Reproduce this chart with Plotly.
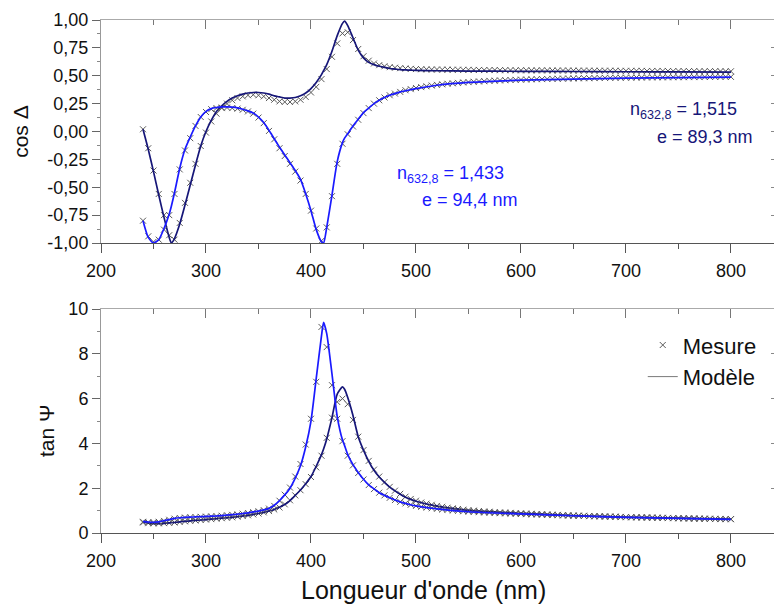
import plotly.graph_objects as go

# ---------------- data ----------------
wl_meas = [240, 245, 250, 255, 260, 265, 270, 275, 280, 285,
           290, 295, 300, 305, 310, 315, 320, 325, 330, 335,
           340, 345, 350, 355, 360, 365, 370, 375, 380, 385,
           390, 395, 400, 405, 410, 415, 420, 425, 430, 435,
           440, 445, 450, 455, 460, 465, 470, 475, 480, 485,
           490, 495, 500, 505, 510, 515, 520, 525, 530, 535,
           540, 545, 550, 555, 560, 565, 570, 575, 580, 585,
           590, 595, 600, 605, 610, 615, 620, 625, 630, 635,
           640, 645, 650, 655, 660, 665, 670, 675, 680, 685,
           690, 695, 700, 705, 710, 715, 720, 725, 730, 735,
           740, 745, 750, 755, 760, 765, 770, 775, 780, 785,
           790, 795, 800]

cos_meas_dark = [0.02, -0.15, -0.35, -0.56, -0.75, -0.93, -0.97, -0.82, -0.64, -0.46,
                 -0.29, -0.13, -0.01, 0.09, 0.16, 0.21, 0.25, 0.28, 0.30, 0.315,
                 0.325, 0.33, 0.325, 0.315, 0.30, 0.285, 0.27, 0.265, 0.265, 0.27,
                 0.285, 0.31, 0.35, 0.40, 0.47, 0.56, 0.67, 0.79, 0.88, 0.89,
                 0.82, 0.74, 0.675, 0.635, 0.61, 0.595, 0.585, 0.577, 0.572, 0.568,
                 0.565, 0.562, 0.56, 0.558, 0.557, 0.556, 0.556, 0.555, 0.555, 0.554,
                 0.554, 0.553, 0.553, 0.552, 0.552, 0.551, 0.551, 0.551, 0.550, 0.550,
                 0.550, 0.549, 0.549, 0.549, 0.548, 0.548, 0.548, 0.548, 0.547, 0.547,
                 0.547, 0.547, 0.546, 0.546, 0.546, 0.546, 0.545, 0.545, 0.545, 0.545,
                 0.545, 0.544, 0.544, 0.544, 0.544, 0.544, 0.543, 0.543, 0.543, 0.543,
                 0.543, 0.542, 0.542, 0.542, 0.542, 0.542, 0.541, 0.541, 0.541, 0.541,
                 0.541, 0.540, 0.540]

cos_meas_blue = [-0.80, -0.94, -0.99, -0.97, -0.88, -0.75, -0.56, -0.34, -0.17, -0.06,
                 0.05, 0.13, 0.175, 0.20, 0.21, 0.215, 0.215, 0.21, 0.205, 0.195,
                 0.18, 0.16, 0.125, 0.075, 0.005, -0.07, -0.15, -0.22, -0.29, -0.36,
                 -0.44, -0.56, -0.71, -0.87, -0.98, -0.86, -0.58, -0.29, -0.11, -0.025,
                 0.045, 0.105, 0.165, 0.21, 0.25, 0.28, 0.305, 0.325, 0.34, 0.355,
                 0.37, 0.38, 0.39, 0.398, 0.405, 0.412, 0.418, 0.423, 0.428, 0.432,
                 0.436, 0.44, 0.443, 0.446, 0.449, 0.451, 0.454, 0.456, 0.458, 0.46,
                 0.462, 0.463, 0.465, 0.466, 0.468, 0.469, 0.47, 0.471, 0.472, 0.473,
                 0.474, 0.475, 0.476, 0.477, 0.478, 0.478, 0.479, 0.48, 0.481, 0.481,
                 0.482, 0.482, 0.483, 0.483, 0.484, 0.484, 0.485, 0.485, 0.486, 0.486,
                 0.486, 0.487, 0.487, 0.487, 0.488, 0.488, 0.488, 0.489, 0.489, 0.489,
                 0.49, 0.49, 0.49]

tan_meas_dark = [0.47, 0.44, 0.43, 0.43, 0.44, 0.45, 0.47, 0.49, 0.52, 0.54,
                 0.56, 0.58, 0.60, 0.62, 0.64, 0.66, 0.68, 0.70, 0.73, 0.76,
                 0.79, 0.83, 0.87, 0.92, 0.98, 1.05, 1.14, 1.28, 1.46, 1.68,
                 1.91, 2.18, 2.50, 2.93, 3.45, 4.25, 5.15, 5.85, 6.00, 5.75,
                 5.05, 4.30, 3.70, 3.22, 2.83, 2.52, 2.27, 2.06, 1.89, 1.75,
                 1.62, 1.52, 1.44, 1.36, 1.31, 1.26, 1.21, 1.17, 1.13, 1.10,
                 1.07, 1.04, 1.02, 1.00, 0.98, 0.96, 0.95, 0.93, 0.92, 0.91,
                 0.90, 0.89, 0.88, 0.87, 0.86, 0.85, 0.84, 0.83, 0.82, 0.81,
                 0.80, 0.79, 0.78, 0.775, 0.77, 0.76, 0.755, 0.75, 0.74, 0.735,
                 0.73, 0.72, 0.715, 0.71, 0.705, 0.70, 0.695, 0.69, 0.685, 0.68,
                 0.675, 0.67, 0.665, 0.66, 0.655, 0.65, 0.645, 0.64, 0.637, 0.633,
                 0.63, 0.627, 0.624]

tan_meas_blue = [0.50, 0.48, 0.48, 0.50, 0.54, 0.59, 0.64, 0.67, 0.69, 0.70,
                 0.71, 0.72, 0.73, 0.74, 0.75, 0.77, 0.79, 0.81, 0.83, 0.86,
                 0.89, 0.93, 0.97, 1.02, 1.09, 1.21, 1.44, 1.71, 2.03, 2.52,
                 3.08, 3.95, 5.10, 6.75, 9.20, 8.30, 6.60, 5.10, 4.10, 3.45,
                 3.02, 2.68, 2.39, 2.14, 1.96, 1.80, 1.68, 1.57, 1.47, 1.39,
                 1.32, 1.26, 1.21, 1.17, 1.14, 1.11, 1.08, 1.05, 1.03, 1.01,
                 0.99, 0.97, 0.955, 0.94, 0.93, 0.915, 0.905, 0.895, 0.885, 0.875,
                 0.865, 0.855, 0.85, 0.84, 0.83, 0.825, 0.815, 0.81, 0.80, 0.795,
                 0.785, 0.78, 0.77, 0.765, 0.76, 0.75, 0.745, 0.74, 0.73, 0.725,
                 0.72, 0.71, 0.705, 0.70, 0.695, 0.69, 0.685, 0.68, 0.675, 0.67,
                 0.665, 0.66, 0.655, 0.65, 0.645, 0.64, 0.635, 0.63, 0.627, 0.623,
                 0.62, 0.617, 0.614]

wl_model = [240, 245, 250, 255, 260, 265, 267, 270, 275, 280,
            285, 290, 295, 300, 305, 310, 315, 320, 325, 330,
            335, 340, 345, 350, 355, 360, 365, 370, 375, 380,
            385, 390, 395, 400, 405, 410, 412, 415, 420, 425,
            430, 432, 435, 440, 445, 450, 455, 460, 465, 470,
            475, 480, 485, 490, 495, 500, 520, 550, 600, 650,
            700, 750, 800]

cos_model_dark = [0.02, -0.16, -0.36, -0.57, -0.77, -0.95, -1.00, -0.96, -0.83, -0.66,
                  -0.48, -0.30, -0.13, 0.00, 0.10, 0.18, 0.23, 0.27, 0.30, 0.32,
                  0.335, 0.345, 0.35, 0.35, 0.345, 0.335, 0.32, 0.31, 0.30, 0.30,
                  0.305, 0.32, 0.345, 0.385, 0.44, 0.51, 0.545, 0.60, 0.72, 0.86,
                  0.97, 0.99, 0.95, 0.84, 0.73, 0.66, 0.62, 0.60, 0.585, 0.575,
                  0.565, 0.56, 0.555, 0.552, 0.55, 0.548, 0.545, 0.542, 0.54, 0.538,
                  0.536, 0.534, 0.532]

cos_model_blue = [-0.80, -0.95, -1.00, -0.97, -0.87, -0.74, -0.67, -0.55, -0.33, -0.16,
                  -0.05, 0.05, 0.13, 0.18, 0.205, 0.215, 0.22, 0.22, 0.218, 0.212,
                  0.20, 0.185, 0.165, 0.13, 0.08, 0.01, -0.065, -0.14, -0.21, -0.28,
                  -0.35, -0.43, -0.56, -0.71, -0.88, -0.99, -1.00, -0.86, -0.57, -0.27,
                  -0.10, -0.06, -0.02, 0.05, 0.11, 0.17, 0.21, 0.25, 0.28, 0.305,
                  0.325, 0.34, 0.355, 0.365, 0.375, 0.385, 0.415, 0.44, 0.46, 0.47,
                  0.478, 0.484, 0.488]

tan_model_dark = [0.48, 0.44, 0.42, 0.42, 0.43, 0.45, 0.46, 0.47, 0.50, 0.52,
                  0.54, 0.56, 0.58, 0.60, 0.62, 0.64, 0.66, 0.68, 0.70, 0.73,
                  0.76, 0.79, 0.83, 0.87, 0.92, 0.98, 1.05, 1.15, 1.27, 1.45,
                  1.68, 1.92, 2.20, 2.52, 2.98, 3.50, 3.75, 4.20, 5.15, 6.20,
                  6.52, 6.42, 6.05, 5.25, 4.30, 3.70, 3.20, 2.80, 2.50, 2.26,
                  2.05, 1.88, 1.73, 1.60, 1.50, 1.42, 1.20, 1.01, 0.88, 0.78,
                  0.71, 0.66, 0.62]

tan_model_blue = [0.52, 0.49, 0.48, 0.50, 0.55, 0.60, 0.62, 0.65, 0.68, 0.70,
                  0.71, 0.72, 0.73, 0.74, 0.75, 0.76, 0.78, 0.80, 0.82, 0.84,
                  0.87, 0.90, 0.94, 0.98, 1.03, 1.10, 1.24, 1.45, 1.70, 2.00,
                  2.45, 3.00, 3.85, 5.00, 6.90, 8.80, 9.40, 8.90, 7.10, 5.20,
                  4.15, 3.90, 3.50, 3.05, 2.70, 2.40, 2.15, 1.97, 1.80, 1.68,
                  1.57, 1.47, 1.39, 1.32, 1.26, 1.21, 1.08, 0.95, 0.85, 0.77,
                  0.70, 0.65, 0.61]

cos_tickvals = [-1.0, -0.75, -0.5, -0.25, 0.0, 0.25, 0.5, 0.75, 1.0]
cos_ticktext = ["-1,00", "-0,75", "-0,50", "-0,25", "0,00", "0,25", "0,50", "0,75", "1,00"]
tan_tickvals = [0, 2, 4, 6, 8, 10]
tan_ticktext = ["0", "2", "4", "6", "8", "10"]

legend_labels = ["Mesure", "Modèle"]
annot_dark = ["n<sub>632,8</sub> = 1,515", "e = 89,3 nm"]
annot_blue = ["n<sub>632,8</sub> = 1,433", "e = 94,4 nm"]
x_title = "Longueur d'onde (nm)"
y_title_top = "cos Δ"
y_title_bottom = "tan Ψ"

# ---------------- style ----------------
FONT = "Arial, 'Liberation Sans', sans-serif"
NAVY = "#161678"
BLUE = "#1a1aff"
MARK = "#5a5a5a"
XR = [200, 841]

fig = go.Figure()

marker_style = dict(symbol="x-thin", size=6, line=dict(width=1, color=MARK), color=MARK)


def add_series(xa, ya, wl_m, meas, wl_l, model, color):
    fig.add_trace(go.Scatter(x=wl_m, y=meas, mode="markers", marker=marker_style,
                             xaxis=xa, yaxis=ya, showlegend=False, hoverinfo="skip"))
    fig.add_trace(go.Scatter(x=wl_l, y=model, mode="lines",
                             line=dict(color=color, width=1.7, shape="spline", smoothing=0.6),
                             xaxis=xa, yaxis=ya, showlegend=False, hoverinfo="skip"))


# top panel (cos Delta)
add_series("x2", "y2", wl_meas, cos_meas_dark, wl_model, cos_model_dark, NAVY)
add_series("x2", "y2", wl_meas, cos_meas_blue, wl_model, cos_model_blue, BLUE)
# bottom panel (tan Psi)
add_series("x", "y", wl_meas, tan_meas_dark, wl_model, tan_model_dark, NAVY)
add_series("x", "y", wl_meas, tan_meas_blue, wl_model, tan_model_blue, BLUE)

# legend entries
fig.add_trace(go.Scatter(x=[None], y=[None], mode="markers", marker=marker_style,
                         name=legend_labels[0], xaxis="x", yaxis="y"))
fig.add_trace(go.Scatter(x=[None], y=[None], mode="lines", line=dict(color="#7a7a7a", width=1),
                         name=legend_labels[1], xaxis="x", yaxis="y"))

# empty traces to realise the overlay frame axes
for xa, ya in [("x3", "y"), ("x4", "y2"), ("x", "y3"), ("x2", "y4")]:
    fig.add_trace(go.Scatter(x=[], y=[], xaxis=xa, yaxis=ya, showlegend=False, hoverinfo="skip"))

TOP_DOM = [0.5653, 1.0]
BOT_DOM = [0.0, 0.4366]

xbase = dict(range=XR, tickmode="linear", tick0=200, dtick=100, ticks="outside", ticklen=9,
             tickcolor="#555555", tickwidth=1, showline=True, linecolor="#555555", linewidth=1,
             showgrid=False, zeroline=False, tickfont=dict(family=FONT, size=18, color="#111111"),
             minor=dict(tickmode="linear", tick0=200, dtick=50, ticks="outside", ticklen=5,
                        tickcolor="#555555", showgrid=False),
             ticklabelstandoff=2, automargin=False)

xframe = dict(range=XR, tickmode="linear", tick0=200, dtick=100, ticks="inside", ticklen=9,
              tickcolor="#777777", showline=True, linecolor="#aaaaaa", linewidth=1,
              showgrid=False, zeroline=False, showticklabels=False, side="top", automargin=False,
              minor=dict(tickmode="linear", tick0=200, dtick=50, ticks="inside", ticklen=5,
                         tickcolor="#777777", showgrid=False))

ybase = dict(ticks="outside", ticklen=8, tickcolor="#666666", showline=True, linecolor="#999999",
             linewidth=1, showgrid=False, zeroline=False, automargin=False,
             tickfont=dict(family=FONT, size=18, color="#111111"))

fig.update_layout(
    width=774, height=607,
    margin=dict(l=101, r=0, t=20, b=74),
    paper_bgcolor="white", plot_bgcolor="white",
    font=dict(family=FONT, color="#111111"),
    showlegend=True,
    legend=dict(x=0.805, y=0.407, xanchor="left", yanchor="top", bgcolor="rgba(0,0,0,0)",
                font=dict(family=FONT, size=22, color="#111111")),
    xaxis=dict(**xbase, domain=[0, 1], anchor="y"),
    xaxis2=dict(**xbase, domain=[0, 1], anchor="y2"),
    xaxis3=dict(**xframe, overlaying="x", anchor="y"),
    xaxis4=dict(**xframe, overlaying="x2", anchor="y2"),
    yaxis=dict(**ybase, domain=BOT_DOM, anchor="x", range=[0, 10], tickmode="array",
               tickvals=tan_tickvals, ticktext=tan_ticktext,
               minor=dict(tickmode="linear", tick0=0, dtick=1, ticks="outside", ticklen=3,
                          tickcolor="#888888", showgrid=False)),
    yaxis2=dict(**ybase, domain=TOP_DOM, anchor="x2", range=[-1, 1], tickmode="array",
                tickvals=cos_tickvals, ticktext=cos_ticktext,
                minor=dict(tickmode="linear", tick0=-1, dtick=0.125, ticks="outside", ticklen=3,
                           tickcolor="#888888", showgrid=False)),
    yaxis3=dict(overlaying="y", anchor="x", side="right", range=[0, 10], tickmode="array",
                tickvals=tan_tickvals, ticks="inside", ticklen=3, tickcolor="#888888",
                showline=False, showgrid=False, zeroline=False, showticklabels=False,
                automargin=False),
    yaxis4=dict(overlaying="y2", anchor="x2", side="right", range=[-1, 1], tickmode="array",
                tickvals=cos_tickvals, ticks="inside", ticklen=3, tickcolor="#888888",
                showline=False, showgrid=False, zeroline=False, showticklabels=False,
                automargin=False),
)

# axis titles (placed as paper annotations)
fig.add_annotation(text=x_title, xref="paper", yref="paper", x=0.479, y=-0.111,
                   xanchor="center", yanchor="middle", showarrow=False,
                   font=dict(family=FONT, size=25, color="#111111"))
fig.add_annotation(text=y_title_top, xref="paper", yref="paper", x=-0.1206, y=0.7836,
                   xanchor="center", yanchor="middle", textangle=-90, showarrow=False,
                   font=dict(family=FONT, size=21, color="#111111"))
fig.add_annotation(text=y_title_bottom, xref="paper", yref="paper", x=-0.0817, y=0.1988,
                   xanchor="center", yanchor="middle", textangle=-90, showarrow=False,
                   font=dict(family=FONT, size=21, color="#111111"))

annots = [
    (annot_dark[0], 702, 0.19, NAVY),
    (annot_dark[1], 728, -0.05, NAVY),
    (annot_blue[0], 480, -0.39, BLUE),
    (annot_blue[1], 504, -0.614, BLUE),
]
for text, ax_x, ax_y, col in annots:
    fig.add_annotation(text=text, x=ax_x, y=ax_y, xref="x2", yref="y2", xanchor="left",
                       yanchor="middle", showarrow=False,
                       font=dict(family=FONT, size=18, color=col))

fig.write_html("out.html", config={"displayModeBar": False},
               post_script="document.body.style.margin='0px';")
